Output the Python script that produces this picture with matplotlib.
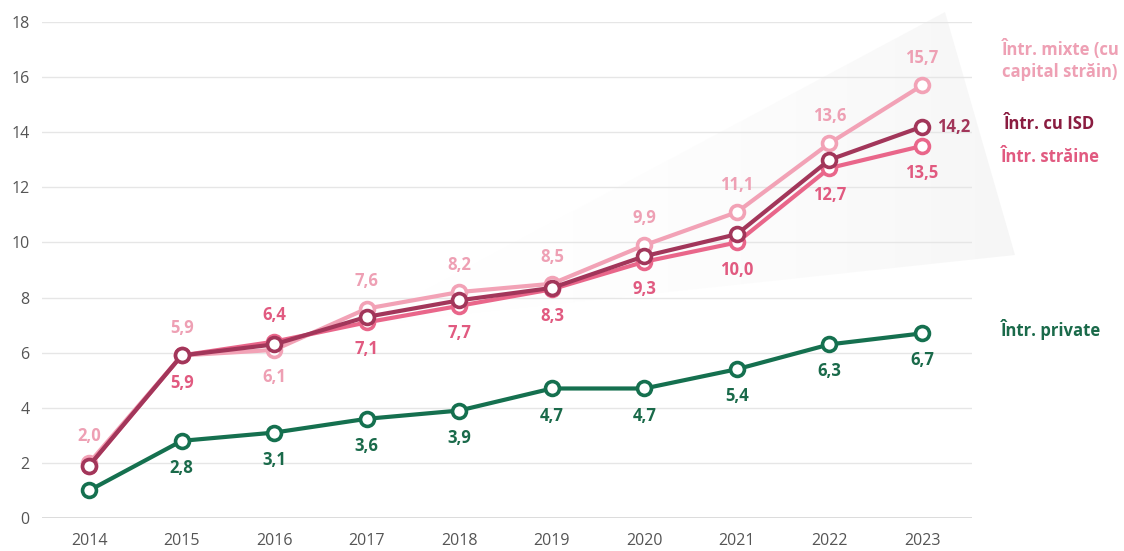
import matplotlib
matplotlib.use("Agg")
import matplotlib.pyplot as plt
import numpy as np
from matplotlib.patches import Polygon

years = [2014, 2015, 2016, 2017, 2018, 2019, 2020, 2021, 2022, 2023]
mixte = [2.0, 5.9, 6.1, 7.6, 8.2, 8.5, 9.9, 11.1, 13.6, 15.7]
straine = [1.9, 5.9, 6.4, 7.1, 7.7, 8.3, 9.3, 10.0, 12.7, 13.5]
isd = [1.9, 5.9, 6.3, 7.3, 7.9, 8.35, 9.5, 10.3, 13.0, 14.2]
private = [1.0, 2.8, 3.1, 3.6, 3.9, 4.7, 4.7, 5.4, 6.3, 6.7]

# label placement: +1 above, -1 below, 0 none
mixte_pos = [1, 1, -1, 1, 1, 1, 1, 1, 1, 1]
straine_pos = [0, -1, 1, -1, -1, -1, -1, -1, -1, -1]
private_pos = [0, -1, -1, -1, -1, -1, -1, -1, -1, -1]

series_names = ["Într. mixte (cu\ncapital străin)", "Într. cu ISD", "Într. străine", "Într. private"]

C_MIX = "#f2a2b6"
C_STR = "#e9668a"
C_ISD = "#a2365a"
C_PRI = "#15704f"
L_MIX = "#eea0b4"
L_STR = "#e15a80"
L_ISD = "#8a1c40"
L_PRI = "#1a6a4a"

FONT = "Open Sans"
W, H = 1124, 551
fig = plt.figure(figsize=(W / 100, H / 100), dpi=100)
ax = fig.add_axes([42 / W, 33 / H, 930 / W, 496 / H])
ax.set_xlim(2013.49, 2023.54)
ax.set_ylim(0, 18)

# soft gray gradient wedge (decoration)
poly_px = np.array([(360, 325), (945, 12), (1015, 255)])
poly_fig = np.column_stack([poly_px[:, 0] / W, 1 - poly_px[:, 1] / H])
grad = np.linspace(0, 1, 256).reshape(1, -1)
cmap = matplotlib.colors.LinearSegmentedColormap.from_list(
    "g", [(1, 1, 1, 0), (0.9, 0.9, 0.9, 0.35)])
bgax = fig.add_axes([0, 0, 1, 1], zorder=-1)
bgax.set_xlim(0, 1)
bgax.set_ylim(0, 1)
bgax.axis("off")
img = bgax.imshow(grad, extent=[360 / W, 1015 / W, 0, 1], aspect="auto",
                  cmap=cmap, origin="lower")
patch = Polygon(poly_fig, closed=True, transform=bgax.transData, facecolor="none", edgecolor="none")
bgax.add_patch(patch)
img.set_clip_path(patch)
ax.set_facecolor("none")
ax.set_zorder(1)

# grid
for y in range(2, 19, 2):
    ax.axhline(y, color="#e6e6e6", lw=1.0, zorder=0)
ax.axhline(0, color="#dcdcdc", lw=1.4, zorder=0)

for s in ax.spines.values():
    s.set_visible(False)
ax.set_yticks(range(0, 19, 2))
ax.set_xticks(years)
ax.tick_params(axis="y", length=0, pad=9, labelsize=11.5, labelcolor="#555555")
ax.tick_params(axis="x", length=0, pad=11, labelsize=11.5, labelcolor="#555555")
for lab in ax.get_yticklabels() + ax.get_xticklabels():
    lab.set_fontfamily(FONT)

mk = dict(marker="o", markersize=10, markerfacecolor="white", markeredgewidth=2.6)
ax.plot(years, mixte, color=C_MIX, lw=3.0, markeredgecolor=C_MIX, zorder=3, **mk)
ax.plot(years, straine, color=C_STR, lw=3.0, markeredgecolor=C_STR, zorder=4, **mk)
ax.plot(years, isd, color=C_ISD, lw=3.0, markeredgecolor=C_ISD, zorder=5, **mk)
ax.plot(years, private, color=C_PRI, lw=3.0, markeredgecolor=C_PRI, zorder=5, **mk)

def fmt(v):
    return f"{v:.1f}".replace(".", ",")

def put_labels(vals, pos, color):
    for x, v, p in zip(years, vals, pos):
        if p == 0:
            continue
        ax.annotate(fmt(v), (x, v), xytext=(0, 19.5 * p), textcoords="offset points",
                    ha="center", va="center", fontsize=12, fontweight="bold",
                    color=color, fontfamily=FONT, zorder=6)

put_labels(mixte, mixte_pos, L_MIX)
put_labels(straine, straine_pos, L_STR)
put_labels(private, private_pos, L_PRI)
ax.annotate(fmt(isd[-1]), (years[-1], isd[-1]), xytext=(11, 0), textcoords="offset points",
            ha="left", va="center", fontsize=12, fontweight="bold", color=C_ISD,
            fontfamily=FONT, zorder=6)

# series names at right
def ftext(px, py, s, color):
    fig.text(px / W, 1 - py / H, s, ha="left", va="center", fontsize=12,
             fontweight="bold", color=color, fontfamily=FONT, linespacing=1.3)

ftext(1002, 60, series_names[0], L_MIX)
ftext(1004, 124, series_names[1], L_ISD)
ftext(1001, 157, series_names[2], L_STR)
ftext(1001, 330, series_names[3], L_PRI)

fig.savefig("out.png", dpi=100)
